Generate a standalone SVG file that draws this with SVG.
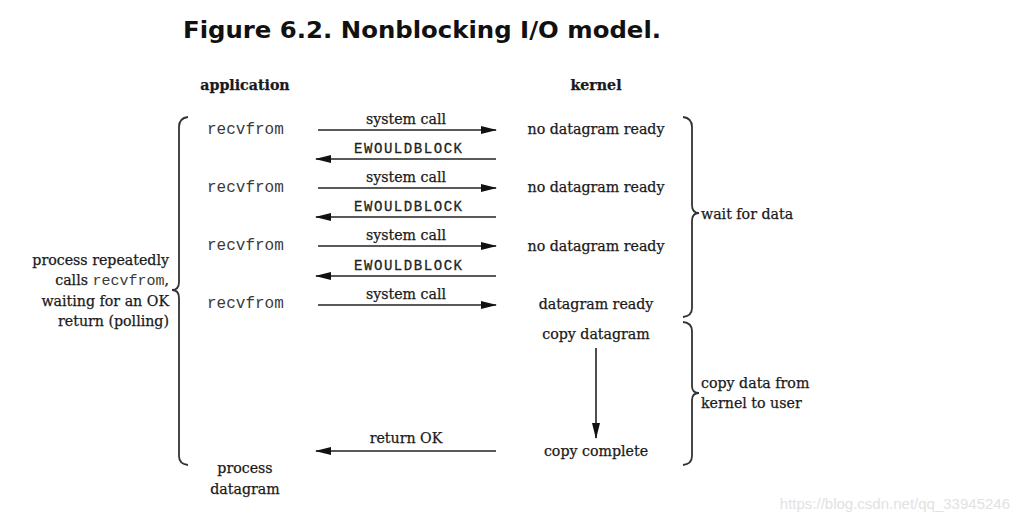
<svg xmlns="http://www.w3.org/2000/svg" width="1021" height="524" viewBox="0 0 1021 524">
<style>
.t{font-family:"DejaVu Serif","Liberation Serif",serif;font-size:14.2px;fill:#1a1a1a;stroke:#1a1a1a;stroke-width:0.25}
.b{font-weight:bold}
.m{font-family:"Liberation Mono","DejaVu Sans Mono",monospace;font-size:16px;fill:#3a3a3a}
.e{font-family:"Liberation Mono","DejaVu Sans Mono",monospace;font-size:14px;fill:#222;stroke:#222;stroke-width:0.3}
.c{text-anchor:middle}
.r{text-anchor:end}
.ln{stroke:#222;stroke-width:1.6;fill:none}
.br{stroke:#333;stroke-width:1.8;fill:none}
</style>
<defs>
<marker id="ah" markerWidth="16" markerHeight="8" refX="15" refY="4" orient="auto" markerUnits="userSpaceOnUse">
<path d="M0,0 L16,4 L0,8 Z" fill="#111"/>
</marker>
</defs>
<rect width="1021" height="524" fill="#fff"/>
<text x="183" y="38" font-family="DejaVu Sans,Verdana,sans-serif" font-weight="bold" font-size="23" fill="#111" textLength="478" lengthAdjust="spacingAndGlyphs">Figure 6.2. Nonblocking I/O model.</text>

<g id="headers">
<text class="t b c" x="245" y="90">application</text>
<text class="t b c" x="596" y="90">kernel</text>
</g>

<g id="braces">
<path class="br" d="M188,117 Q179,118 179,127 L179,282 Q179,290 172,290 Q179,290 179,298 L179,456 Q179,464 188,465"/>
<path class="br" d="M683,117 Q692,118 692,127 L692,205 Q692,213 699,213 Q692,213 692,221 L692,308 Q692,316 683,317"/>
<path class="br" d="M683,322 Q692,323 692,331 L692,386 Q692,393 699,393 Q692,393 692,400 L692,456 Q692,464 683,465"/>
</g>

<g id="app">
<text class="m" x="207" y="134">recvfrom</text>
<text class="m" x="207" y="192">recvfrom</text>
<text class="m" x="207" y="250">recvfrom</text>
<text class="m" x="207" y="308">recvfrom</text>
<text class="t c" x="245" y="473">process</text>
<text class="t c" x="245" y="494">datagram</text>
</g>

<g id="left-note">
<text class="t r" x="169" y="265">process repeatedly</text>
<text class="t r" x="169" y="285">calls <tspan class="m" style="font-size:15px;stroke:none">recvfrom</tspan>,</text>
<text class="t r" x="169" y="306">waiting for an OK</text>
<text class="t r" x="169" y="326">return (polling)</text>
</g>

<g id="kernel">
<text class="t c" x="596" y="134">no datagram ready</text>
<text class="t c" x="596" y="192">no datagram ready</text>
<text class="t c" x="596" y="251">no datagram ready</text>
<text class="t c" x="596" y="309">datagram ready</text>
<text class="t c" x="596" y="339">copy datagram</text>
<text class="t c" x="596" y="456">copy complete</text>
</g>

<g id="right-notes">
<text class="t" x="701" y="219">wait for data</text>
<text class="t" x="701" y="388">copy data from</text>
<text class="t" x="701" y="408">kernel to user</text>
</g>

<g id="connectors">
<line class="ln" x1="318" y1="130" x2="496" y2="130" marker-end="url(#ah)"/>
<line class="ln" x1="496" y1="159" x2="316" y2="159" marker-end="url(#ah)"/>
<line class="ln" x1="318" y1="188" x2="496" y2="188" marker-end="url(#ah)"/>
<line class="ln" x1="496" y1="217" x2="316" y2="217" marker-end="url(#ah)"/>
<line class="ln" x1="318" y1="246" x2="496" y2="246" marker-end="url(#ah)"/>
<line class="ln" x1="496" y1="276" x2="316" y2="276" marker-end="url(#ah)"/>
<line class="ln" x1="318" y1="305" x2="496" y2="305" marker-end="url(#ah)"/>
<line class="ln" x1="496" y1="451" x2="316" y2="451" marker-end="url(#ah)"/>
<line class="ln" x1="596" y1="348" x2="596" y2="438" stroke-width="2" marker-end="url(#ah)"/>
<text class="t c" x="406" y="124">system call</text>
<text class="e c" x="408" y="153" textLength="108">EWOULDBLOCK</text>
<text class="t c" x="406" y="182">system call</text>
<text class="e c" x="408" y="211" textLength="108">EWOULDBLOCK</text>
<text class="t c" x="406" y="240">system call</text>
<text class="e c" x="408" y="270" textLength="108">EWOULDBLOCK</text>
<text class="t c" x="406" y="299">system call</text>
<text class="t c" x="406" y="443">return OK</text>
</g>

<text x="1010" y="509" text-anchor="end" font-family="Liberation Sans,Arial,sans-serif" font-size="15" fill="#e2e2e2">https://blog.csdn.net/qq_33945246</text>
</svg>
